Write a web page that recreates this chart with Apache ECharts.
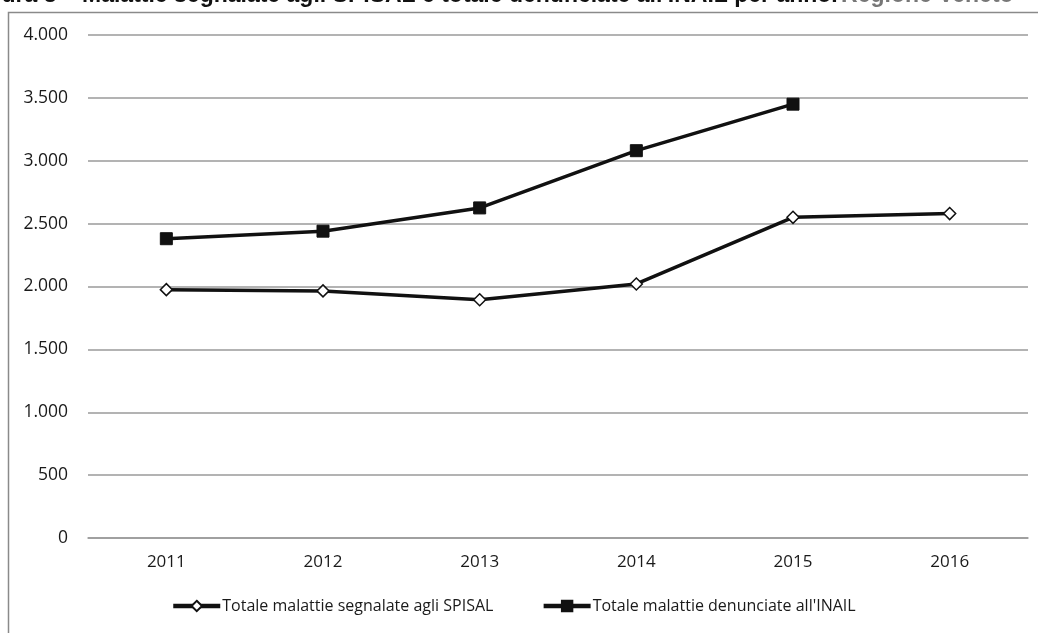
<!DOCTYPE html>
<html>
<head>
<meta charset="utf-8">
<script src="https://cdn.jsdelivr.net/npm/echarts@6/dist/echarts.min.js"></script>
<style>
  html, body { margin: 0; padding: 0; background: #fff; }
  #chart { width: 1038px; height: 633px; }
</style>
</head>
<body>
<div id="chart"></div>
<script>
// Anni
const years = ['2011', '2012', '2013', '2014', '2015', '2016'];
// Totale malattie segnalate agli SPISAL
const spisal = [1975, 1965, 1895, 2020, 2550, 2580];
// Totale malattie denunciate all'INAIL (2016 non disponibile)
const inail = [2380, 2440, 2625, 3080, 3450, null];
// Etichette asse Y
const yTicks = [0, 500, 1000, 1500, 2000, 2500, 3000, 3500, 4000];

const fmt = v => String(v).replace(/\B(?=(\d{3})+(?!\d))/g, '.');
const font = '"Open Sans", "Noto Sans", sans-serif';

const chart = echarts.init(document.getElementById('chart'));
chart.setOption({
  animation: false,
  backgroundColor: '#ffffff',
  graphic: [
    {
      type: 'text', left: -33, top: -16, silent: true,
      style: {
        text: '{b|Figura 8 – Malattie segnalate agli SPISAL e totale denunciate all\'INAIL per anno.} {g|Regione Veneto}',
        rich: {
          b: { font: 'bold 23px "Liberation Sans", Arial, sans-serif', fill: '#111' },
          g: { font: 'bold 23px "Liberation Sans", Arial, sans-serif', fill: '#777' }
        }
      }
    },
    {
      type: 'rect', silent: true,
      shape: { x: 8.5, y: 12.5, width: 1040, height: 640 },
      style: { fill: 'none', stroke: '#8a8a8a', lineWidth: 1.5 }
    }
  ],
  grid: { left: 88, right: 10, top: 35, bottom: 95 },
  xAxis: {
    type: 'category',
    data: years,
    boundaryGap: true,
    axisLine: { show: true, lineStyle: { color: '#9a9a9a', width: 1.5 } },
    axisTick: { show: false },
    axisLabel: { color: '#1a1a1a', fontFamily: font, fontSize: 17, margin: 16 }
  },
  yAxis: {
    type: 'value',
    min: yTicks[0],
    max: yTicks[yTicks.length - 1],
    interval: 500,
    axisLine: { show: false },
    axisTick: { show: false },
    axisLabel: { color: '#1a1a1a', fontFamily: font, fontSize: 17.5, margin: 20, formatter: v => fmt(v) },
    splitLine: { lineStyle: { color: '#9a9a9a', width: 1.5 } }
  },
  legend: {
    bottom: 14,
    left: 166,
    itemGap: 48,
    itemWidth: 47,
    itemHeight: 13,
    lineStyle: { width: 4.5, color: '#111' },
    textStyle: { color: '#1a1a1a', fontFamily: font, fontSize: 16, padding: [0, 0, 0, -3] },
    data: ['Totale malattie segnalate agli SPISAL', 'Totale malattie denunciate all\'INAIL']
  },
  series: [
    {
      name: 'Totale malattie segnalate agli SPISAL',
      type: 'line',
      data: spisal,
      symbol: 'diamond',
      symbolSize: 12,
      showAllSymbol: true,
      lineStyle: { color: '#111', width: 3.5 },
      itemStyle: { color: '#fff', borderColor: '#111', borderWidth: 1.5 }
    },
    {
      name: 'Totale malattie denunciate all\'INAIL',
      type: 'line',
      data: inail,
      symbol: 'rect',
      symbolSize: 12,
      showAllSymbol: true,
      lineStyle: { color: '#111', width: 3.5 },
      itemStyle: { color: '#111', borderColor: '#111', borderWidth: 1 }
    }
  ]
});
</script>
</body>
</html>
